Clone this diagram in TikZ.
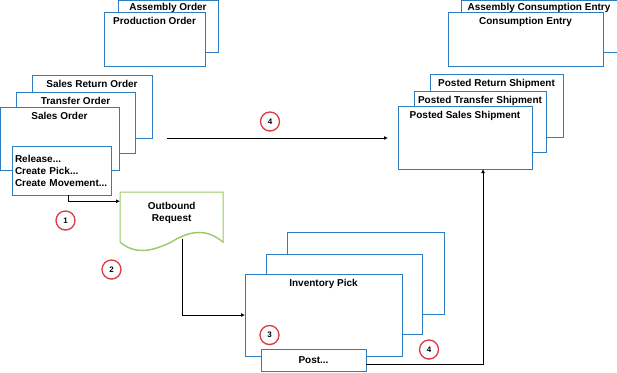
\documentclass[tikz,border=0pt]{standalone}
\usepackage{fontspec}
\setmainfont{Liberation Sans}
\usetikzlibrary{arrows.meta,positioning,calc,shadows}
\definecolor{boxblue}{HTML}{2E7DC0}
\definecolor{docgreen}{HTML}{98CB60}
\definecolor{stepred}{HTML}{DC3B45}

\begin{document}
\begin{tikzpicture}[
    x=1pt, y=-1pt,
    font=\fontsize{10}{12}\selectfont\bfseries,
    >={Latex[length=4pt,width=4pt]},
    box/.style={draw=boxblue, fill=white, line width=1pt, anchor=north west,
                inner sep=0pt, outer sep=0pt,
                drop shadow={shadow xshift=0.8pt, shadow yshift=-0.8pt,
                             fill=boxblue, opacity=1}},
    ttl/.style={anchor=north, inner sep=4pt, text height=8pt, text depth=2pt},
    doc/.style={draw=docgreen, fill=white, line width=1pt,
                drop shadow={shadow xshift=0pt, shadow yshift=-1pt,
                             fill=docgreen!85!black, opacity=0.7}},
    num/.style={circle, draw=stepred, fill=white, line width=1.3pt,
                minimum size=19pt, inner sep=0pt,
                font=\fontsize{8}{8}\selectfont\bfseries,
                drop shadow={shadow xshift=0pt, shadow yshift=-1pt, opacity=0.25}},
    arr/.style={->, draw=black, line width=0.9pt},
  ]
  \useasboundingbox (0,0) rectangle (617,372);

  % Source documents.
  \node[box, minimum width=100, minimum height=52,
        label={[ttl, inner sep=2pt]north:Assembly Order}] (asmord) at (118,0.5) {};
  \node[box, minimum width=101, minimum height=54,
        label={[ttl]north:Production Order}] (prodord) at (104,12) {};

  \node[box, minimum width=120, minimum height=63,
        label={[ttl]north:Sales Return Order}] (retord) at (32,75) {};
  \node[box, minimum width=119, minimum height=61,
        label={[ttl]north:Transfer Order}] (trford) at (16,92) {};
  \node[box, minimum width=119, minimum height=63,
        label={[ttl]north:Sales Order}] (salesord) at (0,107) {};
  \node[box, minimum width=99, minimum height=49, inner sep=3pt,
        text width=93, align=left] (rel) at (12,146)
    {Release...\\Create Pick...\\Create Movement...};

  % Posted documents.
  \node[box, minimum width=156, minimum height=52,
        label={[ttl, inner sep=2pt]north:Assembly Consumption Entry}] (asmcons) at (461,0.5) {};
  \node[box, minimum width=155, minimum height=54,
        label={[ttl]north:Consumption Entry}] (cons) at (448,12) {};

  \node[box, minimum width=133, minimum height=63,
        label={[ttl]north:Posted Return Shipment}] (pret) at (430,74) {};
  \node[box, minimum width=132, minimum height=61,
        label={[ttl]north:Posted Transfer Shipment}] (ptrf) at (414,91) {};
  \node[box, minimum width=134, minimum height=63,
        label={[ttl]north:Posted Sales Shipment}] (pship) at (398,106) {};

  % Outbound request (document shape).
  \draw[doc] (120,192) -- (223,192) -- (223,242)
    .. controls (207,228) and (190,230) .. (171,242)
    .. controls (150,252) and (135,254) .. (120,242) -- cycle;
  \node[minimum width=103, minimum height=42, anchor=north west,
        inner sep=0pt, align=center] (outreq) at (120,192) {Outbound\\Request};
  \coordinate (wave) at (182,239);

  % Inventory pick stack.
  \node[box, minimum width=157, minimum height=82] (pick3) at (287,232) {};
  \node[box, minimum width=156, minimum height=80] (pick2) at (266,254) {};
  \node[box, minimum width=157, minimum height=82,
        label={[ttl]north:Inventory Pick}] (pick) at (245,274) {};
  \node[box, minimum width=105, minimum height=22] (post) at (261,349) {Post...};

  % Flow.
  \draw[arr] ([xshift=6.5pt]rel.south) |- ([yshift=12pt]outreq.west);
  \draw[arr] (wave) |- (pick.west);
  \draw[arr, shorten <=15pt, shorten >=10pt] (retord.south east) -- (retord.south east -| pship.west);
  \draw[arr] ([yshift=-4pt]post.east) -| ([xshift=18pt]pship.south);

  % Step markers.
  \node[num] (s1) at (65.5,220.5) {1};
  \node[num] (s2) at (111.5,269.5) {2};
  \node[num] (s3) at (269.5,335) {3};
  \node[num] (s4a) at (270,121.5) {4};
  \node[num] (s4b) at (429,349.5) {4};
\end{tikzpicture}
\end{document}
